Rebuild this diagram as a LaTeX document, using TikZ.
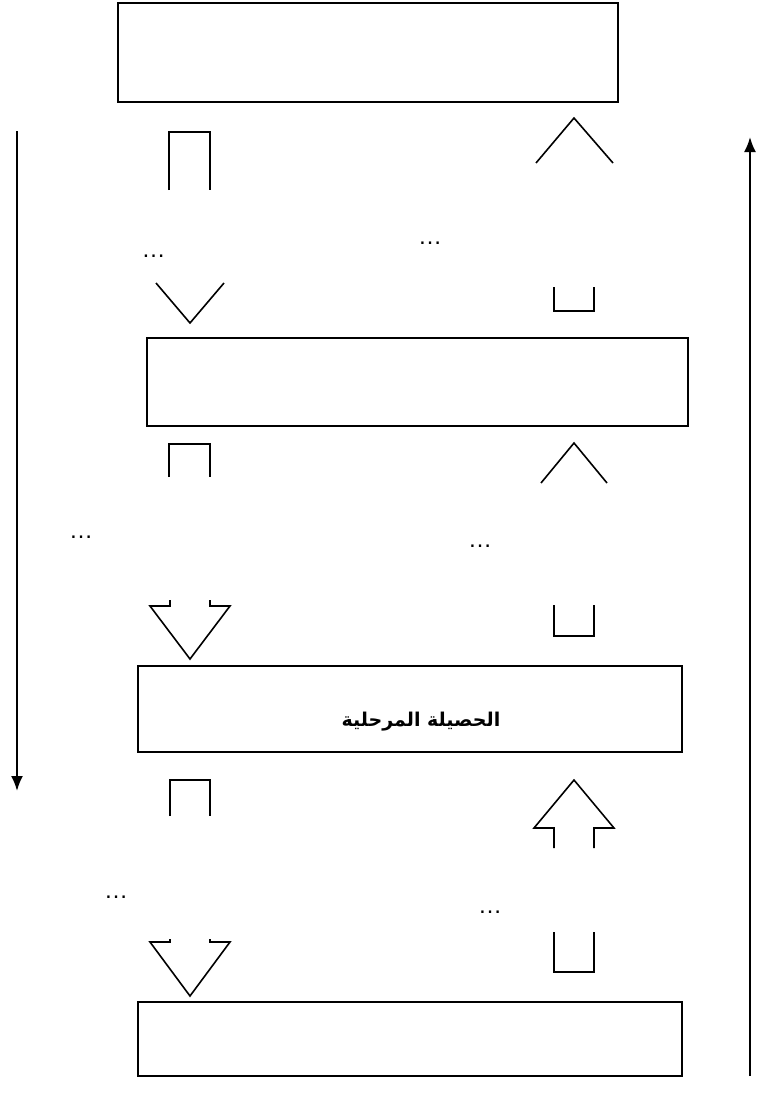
\documentclass[tikz,border=0pt]{standalone}
\usepackage{fontspec}
\usetikzlibrary{arrows.meta}
\TeXXeTstate=1
\newfontfamily\arabicfont[Script=Arabic]{DejaVu Sans}
\newfontfamily\dotfont{Liberation Sans}
\begin{document}
\begin{tikzpicture}[x=1pt,y=-1pt,
  box/.style={draw,line width=1.7pt},
  shp/.style={draw,line width=1.6pt,line join=miter},
  longarrow/.style={draw,line width=2pt,-{Latex[length=15pt,width=12pt]}},
  dotlabel/.style={inner sep=0pt,font=\dotfont\fontsize{24}{26}\selectfont}]
\useasboundingbox (0,0) rectangle (763,1108);
% boxes
\draw[box] (118,3) rectangle (618,102) coordinate (b1);
\draw[box] (147,338) rectangle (688,426) coordinate (b2);
\draw[box] (138,666) rectangle (682,752) coordinate (b3);
\draw[box] (138,1002) rectangle (682,1076) coordinate (b4);
\node[inner sep=0pt] (lbl) at (421,722) {\arabicfont\bfseries\fontsize{19}{22}\selectfont\beginR الحصيلة المرحلية\endR};
% long side arrows
\coordinate (ls) at (17,131);
\coordinate (le) at (17,791);
\draw[longarrow] (ls) -- (le);
\coordinate (rs) at (750,1076);
\coordinate (re) at (750,137);
\draw[longarrow] (rs) -- (re);
% row 1
\draw[shp] (169,190) -- (169,132) -- (210,132) -- (210,190);
\draw[shp] (156,283) -- (190,323) -- (224,283);
\draw[shp] (536,163) -- (574,118) -- (613,163);
\draw[shp] (554,287) -- (554,311) -- (594,311) -- (594,287);
\node[dotlabel,anchor=base] (d1) at (153.5,257) {…};
\node[dotlabel,anchor=base] (d2) at (430,244) {…};
% row 2
\draw[shp] (169,477) -- (169,444) -- (210,444) -- (210,477);
\draw[shp] (170,600) -- (170,606) -- (150,606) -- (190,659) -- (230,606) -- (210,606) -- (210,600);
\draw[shp] (541,483) -- (574,443) -- (607,483);
\draw[shp] (554,605) -- (554,636) -- (594,636) -- (594,605);
\node[dotlabel,anchor=base] (d3) at (81,538) {…};
\node[dotlabel,anchor=base] (d4) at (480,547) {…};
% row 3
\draw[shp] (170,816) -- (170,780) -- (210,780) -- (210,816);
\draw[shp] (170,939) -- (170,942) -- (150,942) -- (190,996) -- (230,942) -- (210,942) -- (210,939);
\draw[shp] (554,848) -- (554,828) -- (534,828) -- (574,780) -- (614,828) -- (594,828) -- (594,848);
\draw[shp] (554,932) -- (554,972) -- (594,972) -- (594,932);
\node[dotlabel,anchor=base] (d5) at (116,898) {…};
\node[dotlabel,anchor=base] (d6) at (490,913) {…};
\end{tikzpicture}
\end{document}
